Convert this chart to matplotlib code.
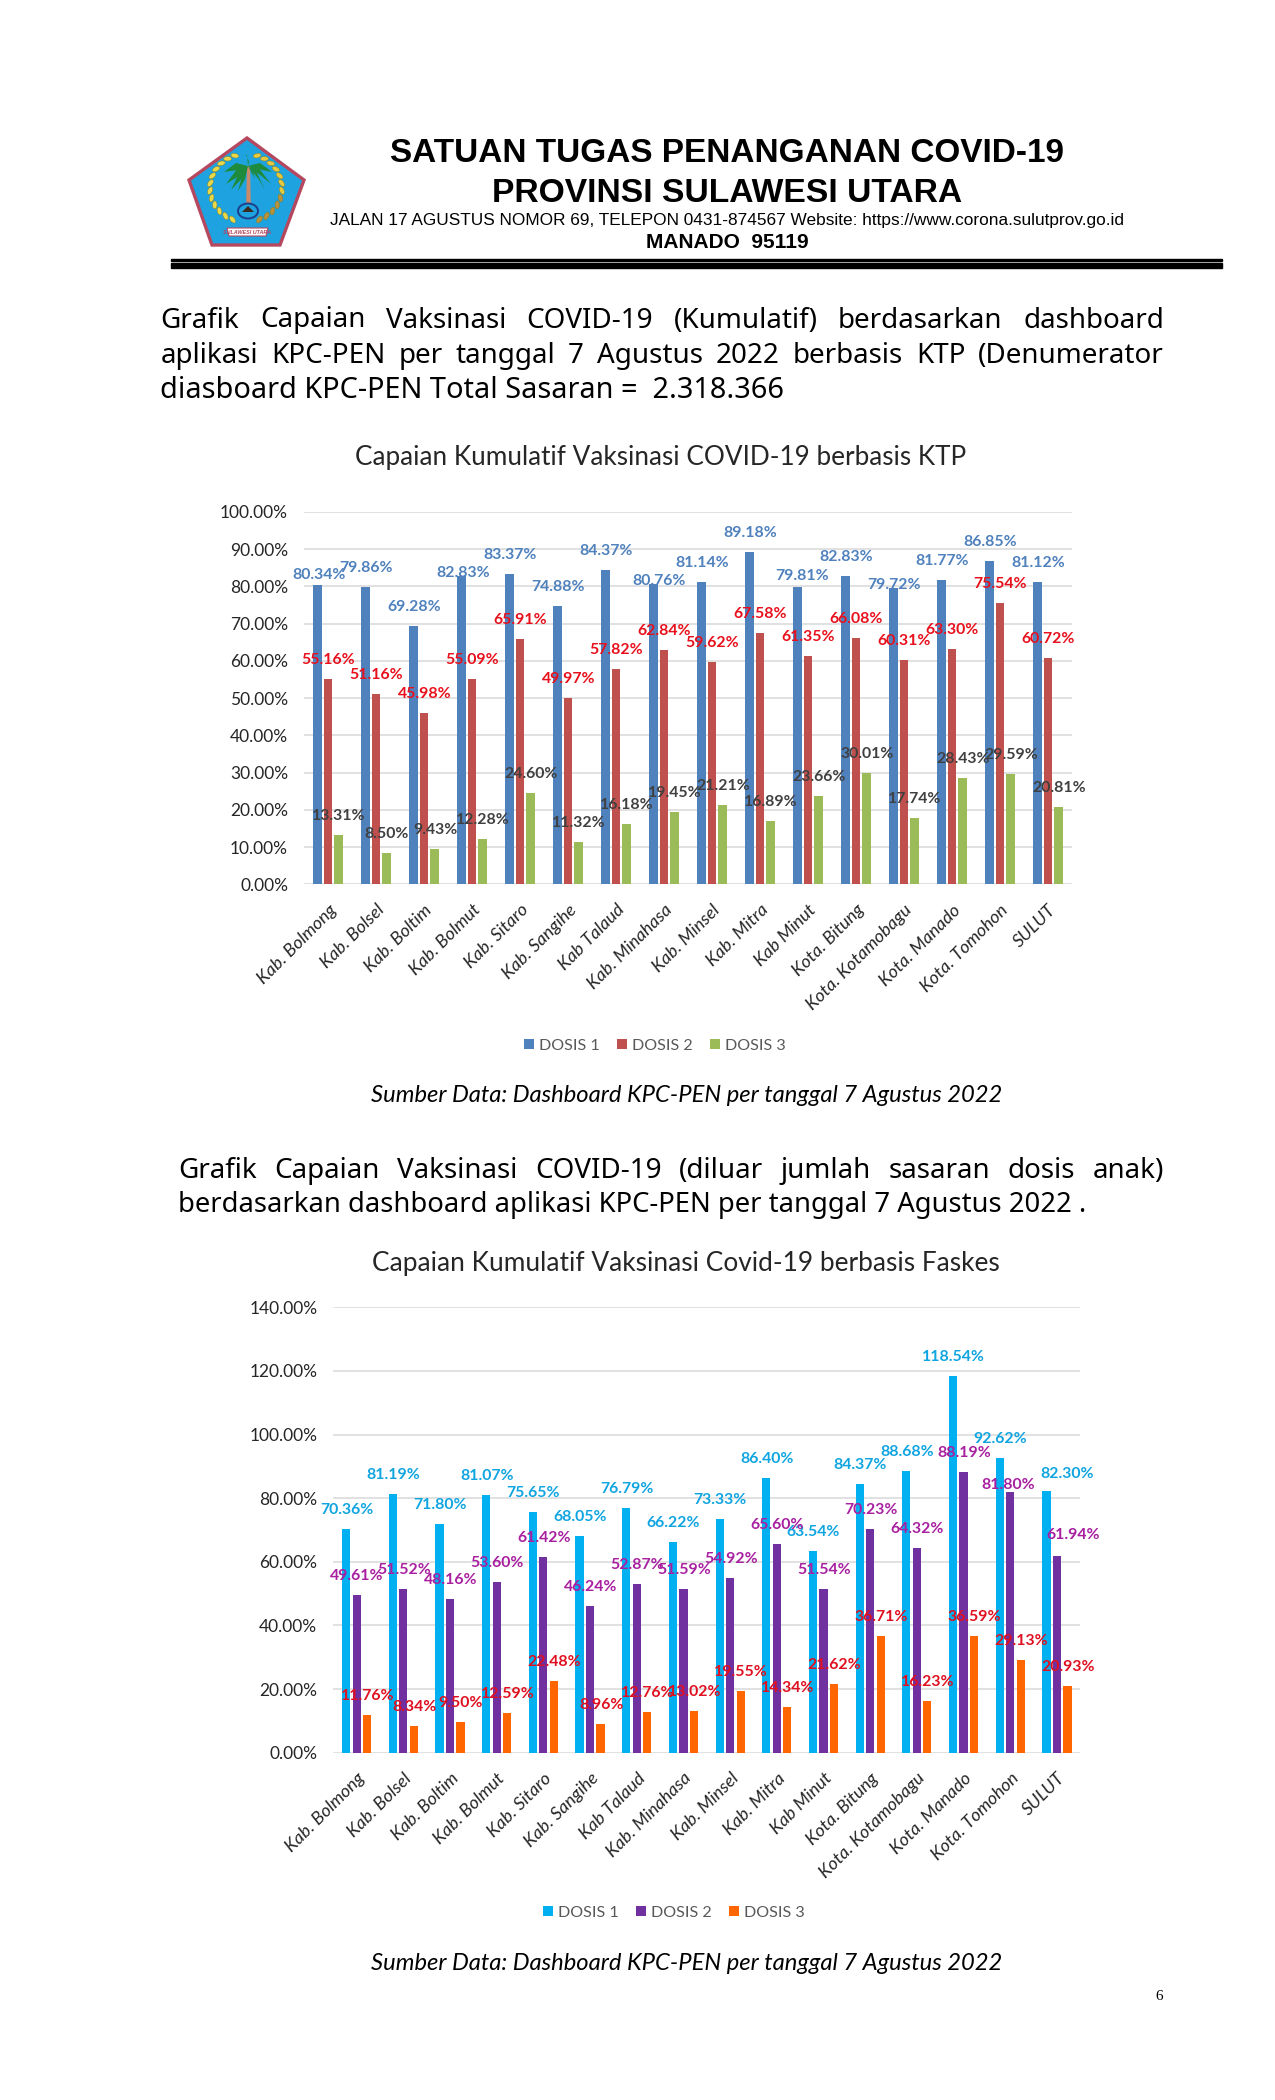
import numpy as np
import matplotlib
matplotlib.use('Agg')
import matplotlib.pyplot as plt
from matplotlib.patches import Polygon, Ellipse, Rectangle
from matplotlib.transforms import ScaledTranslation

# chart data

categories = ['Kab. Bolmong', 'Kab. Bolsel', 'Kab. Boltim', 'Kab. Bolmut', 'Kab. Sitaro',
              'Kab. Sangihe', 'Kab Talaud', 'Kab. Minahasa', 'Kab. Minsel', 'Kab. Mitra',
              'Kab Minut', 'Kota. Bitung', 'Kota. Kotamobagu', 'Kota. Manado', 'Kota. Tomohon', 'SULUT']

ktp_dosis1 = [80.34, 79.86, 69.28, 82.83, 83.37, 74.88, 84.37, 80.76, 81.14, 89.18, 79.81, 82.83, 79.72, 81.77, 86.85, 81.12]
ktp_dosis2 = [55.16, 51.16, 45.98, 55.09, 65.91, 49.97, 57.82, 62.84, 59.62, 67.58, 61.35, 66.08, 60.31, 63.30, 75.54, 60.72]
ktp_dosis3 = [13.31, 8.50, 9.43, 12.28, 24.60, 11.32, 16.18, 19.45, 21.21, 16.89, 23.66, 30.01, 17.74, 28.43, 29.59, 20.81]

faskes_dosis1 = [70.36, 81.19, 71.80, 81.07, 75.65, 68.05, 76.79, 66.22, 73.33, 86.40, 63.54, 84.37, 88.68, 118.54, 92.62, 82.30]
faskes_dosis2 = [49.61, 51.52, 48.16, 53.60, 61.42, 46.24, 52.87, 51.59, 54.92, 65.60, 51.54, 70.23, 64.32, 88.19, 81.80, 61.94]
faskes_dosis3 = [11.76, 8.34, 9.50, 12.59, 22.48, 8.96, 12.76, 13.02, 19.55, 14.34, 21.62, 36.71, 16.23, 36.59, 29.13, 20.93]

series_names = ['DOSIS 1', 'DOSIS 2', 'DOSIS 3']

# labels someone dragged by hand in the original: index -> (dx, dy) in pixels

ktp_moved = {0: {0: (2, 10), 3: (2, 3), 7: (6, 3), 10: (5, 11), 12: (1, 3)}, 1: {}, 2: {}}
faskes_moved = {0: {15: (21, 17)}, 1: {14: (-2, 7), 15: (16, 21)}, 2: {}}

W, H = 1275, 2100
plt.rcParams['font.family'] = ['Lato', 'DejaVu Sans']

fig = plt.figure(figsize=(W / 100, H / 100), dpi=100, facecolor='white')

# overlay in page pixels for the letterhead rules and the logo

page = fig.add_axes([0, 0, 1, 1], zorder=0)
page.set_xlim(0, W)
page.set_ylim(H, 0)
page.axis('off')


def page_text(x, y, s, **kw):
    kw.setdefault('ha', 'center')
    kw.setdefault('va', 'center')
    return fig.text(x / W, 1 - y / H, s, **kw)


def justified(x0, x1, y, line, **kw):
    # draw a line word by word so that it fills x0..x1, like the justified paragraphs
    renderer = fig.canvas.get_renderer()
    words = line.split(' ')
    items = [page_text(x0, y, w, ha='left', **kw) for w in words]
    widths = [t.get_window_extent(renderer).width for t in items]
    gap = (x1 - x0 - sum(widths)) / (len(words) - 1)
    x = x0
    for t, w in zip(items, widths):
        t.set_x(x / W)
        x += w + gap


def bar_chart(box, ymax, ystep, data, colours, label_colours, moved, ticklabel_shift):
    left, top, right, bottom = box
    ax = fig.add_axes([left / W, 1 - bottom / H, (right - left) / W, (bottom - top) / H], zorder=2)
    ax.patch.set_alpha(0)
    group_px = (right - left) / len(categories)
    step = 10.5 / group_px
    width = 8.2 / group_px
    x = np.arange(len(categories))
    handles = []
    for s, values in enumerate(data):
        xs = x + (s - 1) * step
        bars = ax.bar(xs, values, width=width, color=colours[s], zorder=3, label=series_names[s])
        handles.append(bars)
        for i, v in enumerate(values):
            dx, dy = moved[s].get(i, (0.5, 19))
            ax.annotate(f'{v:.2f}%', (xs[i], v), xytext=(dx, dy), textcoords='offset pixels',
                        ha='center', va='center', fontsize=11.4, fontweight='bold',
                        color=label_colours[s], zorder=5)
    ax.set_xlim(-0.5, len(categories) - 0.5)
    ax.set_ylim(0, ymax)
    ax.set_yticks(np.arange(0, ymax + 1, ystep))
    ax.set_yticklabels([f'{v:.2f}%' for v in np.arange(0, ymax + 1, ystep)], fontsize=12.5, color='#262626')
    ax.set_xticks(x)
    ax.set_xticklabels(categories, rotation=45, ha='right', rotation_mode='anchor',
                       fontsize=13, style='italic', color='#262626')
    shift = ScaledTranslation(ticklabel_shift / 100, 0, fig.dpi_scale_trans)
    for lab in ax.get_xticklabels():
        lab.set_transform(lab.get_transform() + shift)
    ax.tick_params(axis='both', length=0)
    ax.tick_params(axis='y', pad=11.5)
    ax.tick_params(axis='x', pad=12.5)
    ax.grid(axis='y', color='#D9D9D9', lw=1.1, zorder=0)
    for side in ax.spines:
        ax.spines[side].set_visible(False)
    ax.set_axisbelow(True)
    return ax, handles


# header

hdr = ['Liberation Sans', 'DejaVu Sans']
page_text(727, 154, 'SATUAN TUGAS PENANGANAN COVID-19', fontsize=24, fontweight='bold', family=hdr)
page_text(727, 193, 'PROVINSI SULAWESI UTARA', fontsize=24.2, fontweight='bold', family=hdr)
page_text(727, 220, 'JALAN 17 AGUSTUS NOMOR 69, TELEPON 0431-874567 Website: https://www.corona.sulutprov.go.id',
          fontsize=12.4, family=hdr)
page_text(727, 243, 'MANADO  95119', fontsize=15, fontweight='bold', family=hdr)

page.add_patch(Rectangle((171, 259), 1051, 1.8, color='black'))
page.add_patch(Rectangle((171, 263), 1051, 5.4, color='black'))

# logo, drawn roughly: pentagon, wreath, palm and ribbon

page.add_patch(Polygon([(247, 138), (304, 180), (280, 245), (212, 245), (189, 180)], closed=True,
                       fc='#1FA3E0', ec='#B5485F', lw=2.4))
for t in np.linspace(0, 1, 12):
    deg = -72 + 140 * t
    a = np.radians(deg)
    for sign, col in [(-1, '#EAD84A'), (1, '#E6C93E' if t < 0.55 else '#B9913A')]:
        ex, ey = 246 + sign * 36 * np.cos(a), 188 + 34 * np.sin(a)
        page.add_patch(Ellipse((ex, ey), 8, 4.5, angle=sign * (deg + 60), fc=col, ec='#7A7A22', lw=0.3))
page.add_patch(Polygon([(247, 166), (250, 166), (251, 211), (246, 211)], closed=True, fc='#C98A6B', ec='none'))
page.add_patch(Ellipse((248, 211), 20, 15, fc='#1FA3E0', ec='#1B3F8B', lw=1.4))
page.add_patch(Polygon([(242, 212), (248, 206), (254, 212)], closed=True, fc='#3A2A20', ec='none'))
for tipx, tipy in [(226, 184), (231, 190), (238, 191), (224, 172), (246, 155), (258, 190), (265, 190), (271, 184), (272, 172)]:
    mx, my = (248 + tipx) / 2, (166 + tipy) / 2 - 6
    page.add_patch(Polygon([(248, 166), (mx, my), (tipx, tipy), (mx + 2, my + 7)], closed=True, fc='#1E8A3C', ec='none'))
page.add_patch(Polygon([(227, 228), (268, 228), (266, 236), (229, 236)], closed=True, fc='white', ec='#B5485F', lw=0.8))
page_text(247.5, 232, 'SULAWESI UTARA', fontsize=3.9, color='#B5485F', fontweight='bold', style='italic', family=hdr)

# paragraphs

para = ['Noto Sans', 'DejaVu Sans']
justified(160.5, 1164, 320.5, 'Grafik Capaian Vaksinasi COVID-19 (Kumulatif) berdasarkan dashboard', fontsize=20, family=para)
justified(160.5, 1164, 356, 'aplikasi KPC-PEN per tanggal 7 Agustus 2022 berbasis KTP (Denumerator', fontsize=20, family=para)
page_text(160.5, 391, 'diasboard KPC-PEN Total Sasaran =  2.318.366', ha='left', fontsize=20.8, family=para)
justified(178, 1164, 1171, 'Grafik Capaian Vaksinasi COVID-19 (diluar jumlah sasaran dosis anak)', fontsize=20, family=para)
page_text(178, 1205, 'berdasarkan dashboard aplikasi KPC-PEN per tanggal 7 Agustus 2022 .', ha='left', fontsize=19.75, family=para)

# first chart

ax1, h1 = bar_chart((304, 512, 1072, 884.3), 100, 10, [ktp_dosis1, ktp_dosis2, ktp_dosis3],
                    ['#4F81BD', '#C0504D', '#9BBB59'], ['#4F81BD', '#E8101C', '#404040'], ktp_moved, -2)
page_text(661, 457, 'Capaian Kumulatif Vaksinasi COVID-19 berbasis KTP', fontsize=18.8, color='#262626')
fig.legend(h1, series_names, loc='center', bbox_to_anchor=(655 / W, 1 - 1046 / H), ncol=3, frameon=False,
           fontsize=11.6, labelcolor='#595959', handlelength=0.6, handleheight=0.6, handletextpad=0.3, columnspacing=1.1)
page_text(686.5, 1096, 'Sumber Data: Dashboard KPC-PEN per tanggal 7 Agustus 2022', fontsize=17.1, style='italic')

# second chart

ax2, h2 = bar_chart((333.3, 1307.3, 1080.3, 1752.7), 140, 20, [faskes_dosis1, faskes_dosis2, faskes_dosis3],
                    ['#00B0F0', '#7030A0', '#FF6600'], ['#10A5E0', '#A820A0', '#E01020'], faskes_moved, -3)
page_text(686, 1264, 'Capaian Kumulatif Vaksinasi Covid-19 berbasis Faskes', fontsize=18.9, color='#262626')
fig.legend(h2, series_names, loc='center', bbox_to_anchor=(674 / W, 1 - 1913 / H), ncol=3, frameon=False,
           fontsize=11.6, labelcolor='#595959', handlelength=0.6, handleheight=0.6, handletextpad=0.3, columnspacing=1.1)
page_text(686.5, 1964, 'Sumber Data: Dashboard KPC-PEN per tanggal 7 Agustus 2022', fontsize=17.1, style='italic')

page_text(1159, 1996, '6', fontsize=11, family=['Liberation Serif', 'DejaVu Serif'])

fig.savefig('out.png', dpi=100, facecolor='white')
